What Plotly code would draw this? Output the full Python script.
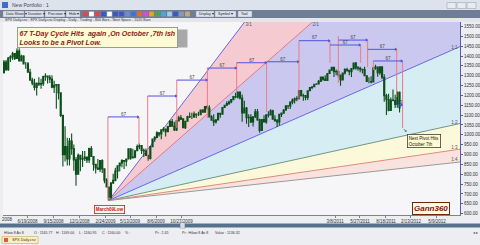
import plotly.graph_objects as go

# ---------------- data (SPX, weekly bars) ----------------
first_open = 1316
close = [1370,1332,1390,1397,1413,1388,1425,1375,1400,1360,
         1360,1318,1278,1262,1240,1261,1257,1260,1296,1298,
         1292,1283,1242,1252,1255,1213,1099,899,940,877,
         968,930,873,800,896,876,880,887,872,931,
         890,850,832,826,869,827,770,735,683,756,
         769,816,843,857,870,866,877,929,883,887,
         919,940,946,921,918,896,880,940,979,987,
         1010,1004,1026,1029,1016,1042,1068,1044,1025,1071,
         1087,1080,1036,1069,1093,1091,1091,1106,1102,1102,
         1126,1115,1144,1136,1091,1074,1066,1075,1109,1105,
         1139,1150,1159,1167,1179,1194,1192,1217,1187,1111,
         1136,1087,1089,1065,1092,1117,1076,1022,1078,1065,
         1102,1101,1122,1079,1071,1065,1104,1110,1125,1148,
         1147,1166,1176,1183,1184,1225,1199,1200,1190,1224,
         1240,1244,1257,1258,1272,1293,1283,1276,1311,1329,
         1343,1320,1321,1304,1279,1314,1332,1328,1320,1337,
         1364,1340,1338,1333,1331,1300,1271,1271,1268,1340,
         1344,1316,1345,1292,1199,1179,1124,1177,1174,1154,
         1216,1136]
high = [1380,1380,1395,1404,1422,1416,1440,1440,1406,1404,
        1370,1370,1335,1290,1285,1266,1292,1285,1300,1313,
        1300,1304,1303,1274,1256,1256,1215,1097,1044,985,
        984,1007,951,888,905,896,918,918,888,935,
        943,891,851,877,870,876,828,780,729,758,
        803,833,845,857,876,871,878,930,916,930,
        920,951,956,945,931,931,897,943,980,993,
        1018,1013,1027,1039,1028,1044,1075,1080,1065,1075,
        1097,1101,1085,1071,1097,1113,1112,1119,1107,1117,
        1129,1130,1145,1150,1150,1100,1104,1080,1112,1112,
        1139,1151,1170,1174,1181,1194,1214,1217,1219,1205,
        1173,1141,1104,1105,1094,1131,1131,1082,1078,1099,
        1103,1120,1130,1128,1100,1081,1104,1110,1131,1148,
        1150,1167,1184,1190,1196,1227,1226,1208,1199,1225,
        1243,1247,1259,1262,1278,1293,1296,1302,1311,1330,
        1344,1342,1332,1330,1302,1314,1338,1340,1329,1337,
        1364,1370,1350,1346,1334,1346,1302,1292,1298,1341,
        1356,1344,1347,1345,1308,1208,1208,1190,1230,1204,
        1220,1220]
low = [1312,1324,1324,1370,1380,1380,1386,1373,1373,1360,
       1335,1316,1278,1252,1225,1200,1248,1234,1248,1274,
       1261,1263,1236,1212,1133,1180,1090,839,865,845,
       845,899,818,741,800,815,837,867,857,857,
       889,818,804,821,812,806,754,734,667,672,
       750,765,779,814,836,826,840,876,873,880,
       881,918,927,903,888,895,869,875,940,965,
       987,992,978,1016,992,1017,1040,1041,1019,1020,
       1070,1075,1033,1030,1069,1086,1080,1087,1086,1096,
       1102,1115,1116,1128,1090,1071,1045,1057,1076,1087,
       1105,1138,1146,1152,1160,1176,1186,1184,1180,1066,
       1126,1056,1040,1060,1042,1085,1071,1011,1028,1063,
       1056,1088,1106,1076,1069,1040,1048,1091,1107,1122,
       1131,1131,1155,1159,1171,1180,1194,1173,1176,1177,
       1224,1232,1245,1254,1257,1268,1275,1276,1276,1311,
       1324,1294,1303,1291,1249,1279,1306,1320,1303,1294,
       1331,1330,1325,1318,1311,1297,1268,1262,1262,1268,
       1330,1295,1305,1282,1168,1101,1120,1122,1170,1136,
       1137,1114]

tick_weeks = [11.2, 23.1, 35.0, 46.9, 58.1, 70.0, 81.7, 151.9, 163.3, 175.2, 186.6, 198.5]
tick_text = ["6/19/2008", "9/15/2008", "12/1/2008", "2/24/2009", "5/13/2009", "8/6/2009",
             "10/27/2009", "3/8/2011", "5/27/2011", "8/18/2011", "2/13/2012", "5/9/2012"]
y_ticks = [600, 650, 700, 750, 800, 850, 900, 950, 1000, 1050, 1100, 1150,
           1200, 1250, 1300, 1350, 1400, 1450, 1500, 1550]

# Gann fan from the March 2009 low
fan_ratios = [3, 2, 1, 1/2, 1/3, 1/4]
fan_names = ["3/1", "2/1", "1:1", "1:2", "1:3", "1:4"]
fan_colors = ["#6666e8", "#ee6f80", "#6666e8", "#6f958a", "#e08a7a", "#9a9a9a"]
fan_fills = ["#f5cad1", "#cac8ee", "#d5edf3", "#fbf9da", "#fae3de"]
gann_unit = 4.86  # points per week on the 1x1

# 67 trading-day cycle brackets
cyc_start = [48.0, 66.2, 79.5, 93.5, 106.9, 120.6, 135.4, 149.6, 153.4, 166.8, 169.4, 180.1]
cyc_end = [62.2, 79.5, 93.5, 106.9, 120.6, 135.4, 149.6, 163.6, 166.8, 180.1, 182.8, 182.8]
cyc_level = [1091, 1197, 1278, 1339, 1366, 1371, 1478, 1456, 1481, 1434, 1375, 1151]
cyc_label = ["67"] * 11 + ["13"]

vl_week = [48.0, 62.2, 66.2, 79.5, 93.5, 106.9, 120.6, 135.4, 149.6, 153.4, 163.6, 166.8, 169.4, 180.1, 182.8]
vl_top = [1091, 1091, 1197, 1278, 1339, 1366, 1371, 1478, 1478, 1502, 1456, 1481, 1375, 1436, 1375]
vl_bottom = [667, 948, 872, 1035, 1085, 1217, 1116, 1177, 1365, 1263, 1365, 1344, 1329, 1192, 1035]

# ---------------- geometry helpers (pixels -> paper) ----------------
W, H = 480, 245
L, R, T, B = 3, 460, 22, 215
def px(x):
    return (x - L) / (R - L)
def py(y):
    return (B - y) / (B - T)

FONT = "Liberation Sans"
xs = [w + 0.4 for w in range(len(close))]
opens = [first_open] + close[:-1]
X_MAX = 209.06
Y_MIN, Y_MAX = 593.1, 1572.8

fig = go.Figure()
shapes = []
annos = []

# fan fills and lines as below-layer shapes (so candles sit on top)
i_low = low.index(min(low))
x0, p0 = xs[i_low], low[i_low]
far = 420
def fan_y(r, x):
    return p0 + r * gann_unit * (x - x0)
for i in range(len(fan_ratios) - 1):
    a, b = fan_ratios[i], fan_ratios[i + 1]
    path = "M %f,%f L %f,%f L %f,%f Z" % (x0, p0, far, fan_y(a, far), far, fan_y(b, far))
    shapes.append(dict(type="path", xref="x", yref="y", path=path, fillcolor=fan_fills[i],
                       line=dict(width=0), layer="below"))
for r, c in zip(fan_ratios, fan_colors):
    shapes.append(dict(type="line", xref="x", yref="y", x0=x0, y0=p0, x1=far, y1=fan_y(r, far),
                       line=dict(color=c, width=1), layer="below"))

# candles
fig.add_trace(go.Candlestick(
    x=xs, open=opens, high=high, low=low, close=close,
    increasing=dict(line=dict(color="#0b4f1a", width=1.1), fillcolor="#23913a"),
    decreasing=dict(line=dict(color="#0b4f1a", width=1.1), fillcolor="#d41c1c"),
    whiskerwidth=0))

# fan labels
lab_x, lab_y = [], []
for r in fan_ratios:
    if fan_y(r, X_MAX) > Y_MAX:
        xt = x0 + (Y_MAX - 12 - p0) / (r * gann_unit)
        lab_x.append(xt + 1.2)
        lab_y.append(Y_MAX - 14)
    else:
        lab_x.append(X_MAX - 4)
        lab_y.append(fan_y(r, X_MAX - 4) + 14)
fig.add_trace(go.Scatter(x=lab_x, y=lab_y, mode="text", text=fan_names,
                         textposition="middle right",
                         textfont=dict(size=4.5, color="#555566", family=FONT)))

# red cycle verticals
vx, vy = [], []
for w, t, b in zip(vl_week, vl_top, vl_bottom):
    vx += [w, w, None]
    vy += [t, b, None]
fig.add_trace(go.Scatter(x=vx, y=vy, mode="lines", line=dict(color="#f07888", width=1),
                         hoverinfo="skip"))

# blue cycle brackets
bx, by = [], []
for s, e, lv in zip(cyc_start, cyc_end, cyc_level):
    bx += [s, e, None]
    by += [lv, lv, None]
fig.add_trace(go.Scatter(x=bx, y=by, mode="lines", line=dict(color="#5252e0", width=1),
                         hoverinfo="skip"))
fig.add_trace(go.Scatter(x=[e - 0.5 for e in cyc_end], y=cyc_level, mode="markers",
                         marker=dict(symbol="triangle-right", size=3, color="#5252e0"),
                         hoverinfo="skip"))
fig.add_trace(go.Scatter(x=[(s + e) / 2 for s, e in zip(cyc_start, cyc_end)],
                         y=[lv + 12 for lv in cyc_level], mode="text", text=cyc_label,
                         textfont=dict(size=4.5, color="#444444", family=FONT)))

def rect(x0p, y0p, x1p, y1p, fill, line=None, lw=0, layer="above"):
    shapes.append(dict(type="rect", xref="paper", yref="paper",
                       x0=px(x0p), x1=px(x1p), y0=py(y1p), y1=py(y0p),
                       fillcolor=fill, line=dict(color=line or fill, width=lw), layer=layer))
def text(xp, yp, s, size=4.5, color="#333333", anchor="left", **kw):
    annos.append(dict(xref="paper", yref="paper", x=px(xp), y=py(yp), text=s, showarrow=False,
                      xanchor=anchor, yanchor="middle",
                      font=dict(size=size, color=color, family=FONT), **kw))

# window chrome
rect(0, 0, 480, 10, "#dde3ec")
rect(2, 2, 8, 8, "#3f6fc8")
text(10, 5, "New Portfolio : 1", 5, "#445")
for xb in (447, 457, 467):
    rect(xb, 2.5, xb + 9, 8.5, "#e8ecf2", "#9aa4b4", 0.6)
rect(0, 10, 480, 18, "#6f7d95")
buttons = [(3, 24, "Data Show ▾"), (25, 44, "Duration ▾"), (45, 65, "Precision ▾"),
           (66, 80, "Hide ▾"), (196, 214, "Display ▾"), (215, 236, "Symbol ▾"), (238, 252, "Tool")]
for a, b, s in buttons:
    rect(a, 11, b, 17, "#dde3ea", "#8a96a8", 0.4)
    text(a + 1, 14, s, 3.6, "#223")
icon_cols = ["#e04848", "#ffffff", "#e04848", "#3a56c8", "#ffffff", "#3a56c8", "#3a56c8",
             "#6a8ad8", "#3a76d8", "#e86a2a", "#d84ad8", "#f0a020", "#48a848", "#48a8d8",
             "#a8c8e8", "#3a56c8", "#8898b8", "#c8a878"]
for k, c in enumerate(icon_cols):
    rect(83 + k * 6, 11.5, 88 + k * 6, 16.5, c, "#7a8698", 0.3)
rect(0, 18, 480, 22, "#e4e6ea")
text(3, 20.2, "SPX Daily.csv : SPX Daily.csv Display - Daily - Trading - 800 Bars - Next Space - 1020 Bars",
     3.6, "#333")

# bottom chrome
rect(0, 223.5, 480, 227.5, "#56708f")
rect(180, 222.5, 185, 228.5, "#d6dce6", "#56708f", 0.5)
rect(0, 228.5, 480, 236, "#eceef1")
status = [(2, "Hilow 8 Av 8"), (32, "O : 1165.77"), (54, "H : 1169.00"), (77, "L : 1160.95"),
          (100, "C : 1160.00"), (123, "% :"), (153, "Pr : 2.45"), (180, "Pr : Hilow 8 Av 8"),
          (213, "Value : 1136.32")]
for xx, s in status:
    text(xx, 232.5, s, 3.6, "#333")
rect(2, 236.5, 38, 243.5, "#fcefbf", "#c8a860", 0.6)
rect(4, 238, 8, 242, "#e05a3a")
text(10, 240, "SPX Daily.csv", 3.8, "#333")
text(471, 232.5, "◂ ▸", 3.6, "#555")
text(0, 219.5, "2008", 4.5, "#333")

# text boxes
rect(19.5, 29.5, 187.5, 47.5, "#a8a8a8")
annos.append(dict(xref="paper", yref="paper", x=px(17), y=py(27), xanchor="left", yanchor="top",
                  text="<b><i>67 T-Day Cycle Hits  again ,On October ,7th ish<br>Looks to be a Pivot Low.</i></b>",
                  showarrow=False, align="left", bgcolor="#fffbd2", bordercolor="#9a9a9a",
                  borderwidth=1, borderpad=1.5,
                  font=dict(size=7, color="#8c1a1a", family=FONT)))
annos.append(dict(xref="paper", yref="paper", x=px(411.5), y=py(201.5), xanchor="left", yanchor="top",
                  text="<b><i>Gann360</i></b>", showarrow=False, bgcolor="#fffbe0",
                  bordercolor="#6b2a10", borderwidth=1, borderpad=1,
                  font=dict(size=8, color="#8c1010", family=FONT)))
annos.append(dict(xref="paper", yref="paper", x=px(407), y=py(134), xanchor="left", yanchor="top",
                  text="Next Pivot Hits<br>October 7th", showarrow=False, align="left",
                  bgcolor="#fffbd0", bordercolor="#404040", borderwidth=0.8, borderpad=1,
                  font=dict(size=4.5, color="#111", family=FONT)))
annos.append(dict(xref="paper", yref="paper", x=px(94), y=py(205), xanchor="left", yanchor="top",
                  text="<b>March09Low</b>", showarrow=False,
                  bgcolor="#fff6ee", bordercolor="#c02020", borderwidth=0.8, borderpad=1,
                  font=dict(size=4.5, color="#c01818", family=FONT)))
text(405, 130, "➘", 5, "#111", anchor="center")

fig.update_layout(
    width=W, height=H, margin=dict(l=L, r=W - R, t=T, b=H - B),
    paper_bgcolor="#eceef2", plot_bgcolor="#f6f6f8", showlegend=False,
    shapes=shapes, annotations=annos,
    xaxis=dict(range=[0, X_MAX], tickvals=tick_weeks, ticktext=tick_text,
               tickfont=dict(size=4.5, color="#333", family=FONT), showgrid=False, zeroline=False,
               showline=True, linecolor="#7a7ac8", linewidth=1, ticks="outside", ticklen=2,
               tickcolor="#7a7ac8", rangeslider=dict(visible=False), automargin=False,
               fixedrange=True),
    yaxis=dict(range=[Y_MIN, Y_MAX], side="right", tickvals=y_ticks,
               ticktext=["%.2f" % v for v in y_ticks],
               tickfont=dict(size=4.5, color="#333", family=FONT), showgrid=False, zeroline=False,
               showline=True, linecolor="#5a5aa8", linewidth=1, ticks="outside", ticklen=2,
               tickcolor="#5a5aa8", automargin=False, fixedrange=True),
)

fig.write_html("out.html")
